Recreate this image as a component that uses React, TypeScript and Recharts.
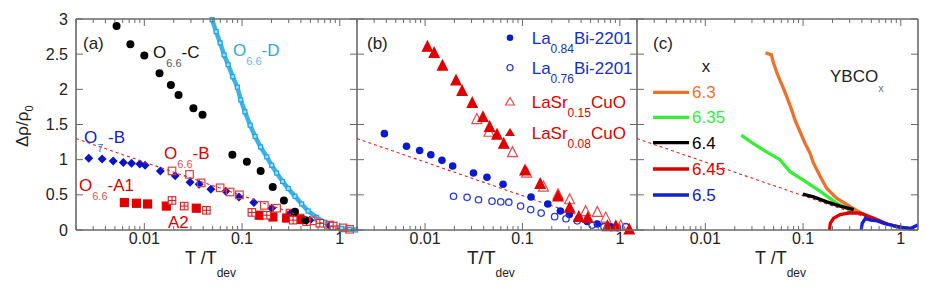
import { ComposedChart, Scatter, XAxis, YAxis } from 'recharts';

const W = 926;
const H = 293;
const TOP = 19;
const BOTTOM = 230;
const AXIS = '#6a6a6a';
const FONT = '"Liberation Sans", Arial, sans-serif';

type P = [number, number];

// axis values
const xDomain: [number, number] = [0.002, 1.5];
const xTicks = [
  0.002, 0.003, 0.004, 0.005, 0.006, 0.007, 0.008, 0.009, 0.01,
  0.02, 0.03, 0.04, 0.05, 0.06, 0.07, 0.08, 0.09, 0.1,
  0.2, 0.3, 0.4, 0.5, 0.6, 0.7, 0.8, 0.9, 1,
];
const xMajor = [0.01, 0.1, 1];
const yTicks = [0, 0.5, 1, 1.5, 2, 2.5, 3];

// red dashed guide, same in all three panels
const guide: P[] = [[0.002, 1.3], [1.05, 0]];

// (a) YBCO 6.6 / 7 samples
const o66C: P[] = [
  [0.0052, 2.9], [0.0072, 2.64], [0.01, 2.48], [0.0143, 2.23], [0.0187, 2.06],
  [0.0224, 1.92], [0.0318, 1.73], [0.0394, 1.64], [0.0796, 1.07], [0.112, 0.97],
  [0.155, 0.84], [0.206, 0.61], [0.268, 0.42], [0.348, 0.26], [0.447, 0.14],
];
const o66D: P[] = [
  [0.0494, 2.99], [0.0543, 2.82], [0.0597, 2.66], [0.0655, 2.49], [0.072, 2.35],
  [0.0803, 2.18], [0.0895, 2.03], [0.0969, 1.85], [0.107, 1.68], [0.121, 1.49],
  [0.136, 1.33], [0.155, 1.18], [0.179, 1.04], [0.201, 0.92], [0.226, 0.81],
  [0.26, 0.69], [0.297, 0.59], [0.348, 0.48], [0.407, 0.37], [0.475, 0.27],
  [0.578, 0.18], [0.703, 0.11], [0.855, 0.057], [1.04, 0.024], [1.26, 0.01],
  [1.45, 0.0],
];
const o7B: P[] = [
  [0.0027, 1.02], [0.0037, 1.01], [0.0048, 0.98], [0.0061, 0.96], [0.0074, 0.95],
  [0.009, 0.94], [0.0102, 0.92], [0.0146, 0.84], [0.0207, 0.77], [0.0294, 0.68],
  [0.0364, 0.65], [0.048, 0.58], [0.0682, 0.55], [0.093, 0.47], [0.132, 0.39],
  [0.201, 0.31], [0.309, 0.23], [0.494, 0.14], [0.79, 0.06],
];
const o66B: P[] = [
  [0.0192, 0.84], [0.029, 0.79], [0.0382, 0.67], [0.0597, 0.6], [0.0755, 0.54],
  [0.094, 0.5], [0.169, 0.35], [0.226, 0.31], [0.309, 0.24], [0.391, 0.17],
  [0.535, 0.13], [0.79, 0.07], [1.08, 0.03], [1.26, 0.01],
];
const o66A1: P[] = [
  [0.00625, 0.39], [0.0083, 0.38], [0.0108, 0.37], [0.0168, 0.34], [0.034, 0.31],
  [0.15, 0.21], [0.207, 0.185], [0.286, 0.17], [0.391, 0.15],
];
const o66A2: P[] = [
  [0.0192, 0.42], [0.0256, 0.34], [0.0432, 0.28], [0.126, 0.25], [0.179, 0.21],
  [0.333, 0.14], [0.457, 0.12], [0.625, 0.095], [0.855, 0.057],
];

// (b) Bi-2201 and LSCO
const la084: P[] = [
  [0.00382, 1.37], [0.00645, 1.19], [0.0088, 1.13], [0.01146, 1.07], [0.0149, 0.99],
  [0.0192, 0.91], [0.0314, 0.81], [0.0432, 0.75], [0.0632, 0.65], [0.1225, 0.47],
  [0.182, 0.37], [0.245, 0.27], [0.303, 0.22], [0.379, 0.17], [0.462, 0.12],
  [0.587, 0.085], [0.807, 0.047],
];
const la076: P[] = [
  [0.0196, 0.48], [0.027, 0.465], [0.0354, 0.43], [0.0487, 0.41], [0.0598, 0.4],
  [0.0724, 0.395], [0.0957, 0.34], [0.1216, 0.29], [0.1556, 0.24], [0.214, 0.19],
  [0.28, 0.16], [0.365, 0.13], [0.52, 0.07], [0.687, 0.047], [0.946, 0.033],
  [1.15, 0.047],
];
const lsco015: P[] = [
  [0.034, 1.57], [0.0453, 1.39], [0.079, 1.1], [0.1107, 0.81], [0.1644, 0.61],
  [0.232, 0.5], [0.305, 0.43], [0.445, 0.26], [0.587, 0.25], [0.716, 0.17],
  [1.02, 0.057],
];
const lsco008: P[] = [
  [0.01056, 2.6], [0.0124, 2.51], [0.0151, 2.33], [0.0208, 2.12], [0.024, 1.97],
  [0.0305, 1.8], [0.0393, 1.6], [0.046, 1.46], [0.0548, 1.35], [0.0643, 1.22],
  [0.1062, 0.84], [0.152, 0.65], [0.232, 0.47], [0.305, 0.31], [0.379, 0.18],
  [0.469, 0.165], [0.746, 0.047], [0.91, 0.047], [1.25, 0.0],
];

// (c) YBCO_x curves
const ybco63: P[] = [
  [0.0412, 2.52], [0.0475, 2.49], [0.0494, 2.39], [0.0514, 2.32], [0.0535, 2.25],
  [0.058, 2.13], [0.0627, 2.02], [0.0679, 1.9], [0.0764, 1.71], [0.0828, 1.56],
  [0.093, 1.4], [0.105, 1.23], [0.118, 1.09], [0.128, 0.95], [0.15, 0.76],
  [0.175, 0.59], [0.222, 0.45], [0.282, 0.36], [0.358, 0.27], [0.454, 0.2],
];
const ybco635: P[] = [
  [0.0233, 1.35], [0.0308, 1.23], [0.0423, 1.11], [0.058, 1.0], [0.0735, 0.83],
  [0.1007, 0.71], [0.15, 0.55], [0.222, 0.38], [0.33, 0.26],
];
const ybco64: P[] = [
  [0.0993, 0.51], [0.128, 0.47], [0.175, 0.4], [0.24, 0.34], [0.33, 0.29],
];
const ybco645: P[] = [
  [0.1866, 0.0], [0.19, 0.095], [0.205, 0.166], [0.24, 0.22], [0.305, 0.245],
  [0.387, 0.24], [0.531, 0.166], [0.73, 0.085], [1.0, 0.038], [1.37, 0.01],
];
const ybco65: P[] = [
  [0.394, 0.0], [0.403, 0.095], [0.435, 0.166], [0.49, 0.142], [0.575, 0.13],
  [0.673, 0.095], [0.789, 0.071], [0.925, 0.047], [1.08, 0.033], [1.27, 0.024],
  [1.49, 0.071],
];
const xLevels = ['6.3', '6.35', '6.4', '6.45', '6.5'];
const xColors = ['#f07028', '#33f033', '#000000', '#e00000', '#1020d0'];

const toXY = (pts: P[]) => pts.map(([x, y]) => ({ x, y }));

// marker shapes
const none = () => <g />;
const dot = (r: number, fill: string, stroke = 'none') => (p: any) => (
  <circle cx={p.cx} cy={p.cy} r={r} fill={fill} stroke={stroke} strokeWidth={1.3} />
);
const box = (s: number, fill: string, stroke: string) => (p: any) => (
  <rect x={p.cx - s / 2} y={p.cy - s / 2} width={s} height={s} fill={fill} stroke={stroke} strokeWidth={1.2} />
);
const hatchBox = (s: number, stroke: string) => (p: any) => (
  <g stroke={stroke} strokeWidth={1.1} fill="#fff">
    <rect x={p.cx - s / 2} y={p.cy - s / 2} width={s} height={s} />
    <line x1={p.cx} x2={p.cx} y1={p.cy - s / 2} y2={p.cy + s / 2} />
    <line x1={p.cx - s / 2} x2={p.cx + s / 2} y1={p.cy} y2={p.cy} />
  </g>
);
const diamond = (s: number, fill: string) => (p: any) => (
  <polygon points={`${p.cx},${p.cy - s} ${p.cx + s},${p.cy} ${p.cx},${p.cy + s} ${p.cx - s},${p.cy}`} fill={fill} />
);
const tri = (s: number, fill: string, stroke: string) => (p: any) => (
  <polygon
    points={`${p.cx},${p.cy - s * 0.6} ${p.cx + s / 2},${p.cy + s * 0.4} ${p.cx - s / 2},${p.cy + s * 0.4}`}
    fill={fill} stroke={stroke} strokeWidth={1.2}
  />
);

interface Series { data: P[]; shape: any; line?: any }

const dashed = { stroke: '#e02020', strokeWidth: 1.1, strokeDasharray: '3 3' };

const panelA: Series[] = [
  { data: o66D, shape: box(4, '#a6dcf6', '#1ea4e0'), line: { stroke: '#3ab3ea', strokeWidth: 4.5 } },
  { data: o7B, shape: diamond(4.5, '#0a14c8') },
  { data: o66B, shape: box(7.5, 'none', '#e83a3a') },
  { data: o66A1, shape: box(8, '#e00000', '#e00000') },
  { data: o66A2, shape: hatchBox(7.5, '#e02020') },
  { data: o66C, shape: dot(4, '#000') },
  { data: guide, shape: none, line: dashed },
];
const panelB: Series[] = [
  { data: guide, shape: none, line: dashed },
  { data: la084, shape: dot(3.8, '#0a1ad0') },
  { data: la076, shape: dot(3.2, 'none', '#2a3ae0') },
  { data: lsco015, shape: tri(10, 'none', '#f04848') },
  { data: lsco008, shape: tri(10, '#e00000', '#e00000') },
];
const panelC: Series[] = [
  { data: guide, shape: none, line: dashed },
  ...[ybco63, ybco635, ybco64, ybco645, ybco65].map((d, i) => ({
    data: d, shape: none, line: { stroke: xColors[i], strokeWidth: 3.3 },
  })),
];

function Panel({ left, right, series, yLabels }: { left: number; right: number; series: Series[]; yLabels?: boolean }) {
  // x ticks point inward at the bottom and at the top of the box
  const xTick = (p: any) => {
    const v = p.payload.value;
    const major = xMajor.includes(v);
    const len = major ? 7 : 4;
    return (
      <g>
        <line x1={p.x} x2={p.x} y1={BOTTOM} y2={BOTTOM - len} stroke={AXIS} />
        <line x1={p.x} x2={p.x} y1={TOP} y2={TOP + len} stroke={AXIS} />
        {major && (
          <text x={p.x} y={BOTTOM + 14} textAnchor="middle" fontSize={16} fill="#222" fontFamily={FONT}>
            {String(v)}
          </text>
        )}
      </g>
    );
  };
  // y ticks on both sides of the box
  const yTick = (p: any) => (
    <g>
      <line x1={left} x2={left + 7} y1={p.y} y2={p.y} stroke={AXIS} />
      <line x1={right} x2={right - 7} y1={p.y} y2={p.y} stroke={AXIS} />
      {yLabels && (
        <text x={left - 8} y={p.y + 5.5} textAnchor="end" fontSize={16} fill="#222" fontFamily={FONT}>
          {String(p.payload.value)}
        </text>
      )}
    </g>
  );

  return (
    <div style={{ position: 'absolute', left: 0, top: 0 }}>
      <ComposedChart width={W} height={H}
        margin={{ top: TOP, bottom: H - BOTTOM - 1, left: left - 1, right: W - right }}>
        <XAxis type="number" dataKey="x" scale="log" domain={xDomain} ticks={xTicks} interval={0}
          height={1} axisLine={false} tickLine={false} tick={xTick} />
        <YAxis type="number" dataKey="y" domain={[0, 3]} ticks={yTicks} interval={0} width={1}
          axisLine={false} tickLine={false} tick={yTick} />
        {series.map((s, i) => (
          <Scatter key={i} data={toXY(s.data)} shape={s.shape} line={s.line} lineJointType="linear"
            isAnimationActive={false} />
        ))}
      </ComposedChart>
    </div>
  );
}

function Lab({ x, y, color, a, sub, b, subColor, size = 17, subSize = 11, shift = 9 }: any) {
  return (
    <text x={x} y={y} fill={color} fontSize={size} fontFamily={FONT}>
      {a}
      <tspan fontSize={subSize} dy={shift} fill={subColor ?? color}>{sub}</tspan>
      <tspan dy={-shift}>{b}</tspan>
    </text>
  );
}

export default function App() {
  const bLegend = [
    { a: 'La', sub: '0.84', b: 'Bi-2201', color: '#1030d0', mark: <circle cx={510} cy={37.7} r={3.3} fill="#0a1ad0" /> },
    { a: 'La', sub: '0.76', b: 'Bi-2201', color: '#1030d0', mark: <circle cx={510} cy={67.7} r={3} fill="none" stroke="#2a3ae0" strokeWidth={1.2} /> },
    { a: 'LaSr', sub: '0.15', b: 'CuO', color: '#e00000', mark: <polygon points="510,97.5 514.5,105 505.5,105" fill="none" stroke="#f04848" strokeWidth={1.2} /> },
    { a: 'LaSr', sub: '0.08', b: 'CuO', color: '#e00000', mark: <polygon points="510,128 515,136 505,136" fill="#e00000" /> },
  ];
  const bY = [43.7, 73.7, 107.7, 138.5];
  const cY = [92.3, 117.3, 142.7, 169, 195];

  return (
    <div style={{ position: 'absolute', left: 0, top: 0, width: W, height: H, background: '#fff' }}>
      <Panel left={76} right={357} series={panelA} yLabels />
      <Panel left={357} right={637} series={panelB} />
      <Panel left={637} right={918} series={panelC} />
      <svg width={W} height={H} style={{ position: 'absolute', left: 0, top: 0, zIndex: 5, pointerEvents: 'none' }}>
        {/* frame of the three boxes */}
        <g stroke={AXIS} strokeWidth={1.6}>
          <line x1={76} x2={918} y1={TOP} y2={TOP} />
          <line x1={76} x2={918} y1={BOTTOM} y2={BOTTOM} />
          <line x1={76} x2={76} y1={TOP} y2={BOTTOM} />
          <line x1={357} x2={357} y1={TOP} y2={BOTTOM} />
          <line x1={637} x2={637} y1={TOP} y2={BOTTOM} />
          <line x1={918} x2={918} y1={TOP} y2={BOTTOM} />
        </g>

        {/* y axis title */}
        <text x={28} y={147} transform="rotate(-90 28 147)" fontSize={17} fill="#222" fontFamily={FONT}>
          Δρ/ρ<tspan fontSize={11} dy={5}>0</tspan>
        </text>

        {/* x axis titles */}
        <Lab x={185} y={263.5} color="#222" a="T /T" sub="dev" b="" size={18} subSize={12} shift={13} />
        <Lab x={467} y={263.5} color="#222" a="T/T" sub="dev" b="" size={19} subSize={12} shift={13} />
        <Lab x={755} y={263.5} color="#222" a="T /T" sub="dev" b="" size={18} subSize={12} shift={13} />

        {/* panel (a) labels */}
        <text x={83} y={49} fontSize={17} fill="#222" fontFamily={FONT}>(a)</text>
        <Lab x={153} y={58} color="#111" subColor="#555" a="O" sub="6.6" b="-C" />
        <Lab x={233} y={56} color="#29abe2" subColor="#5cc0ea" a="O" sub="6.6" b="-D" />
        <Lab x={84} y={143} color="#1020d0" subColor="#5060e0" a="O" sub="7" b=" -B" />
        <Lab x={164} y={159} color="#e00000" subColor="#e85050" a="O" sub="6.6" b="-B" />
        <Lab x={79} y={191} color="#e00000" subColor="#e85050" a="O" sub="6.6" b="-A1" />
        <text x={168} y={228} fontSize={17} fill="#e00000" fontFamily={FONT}>A2</text>

        {/* panel (b) legend */}
        <text x={367} y={49} fontSize={17} fill="#222" fontFamily={FONT}>(b)</text>
        {bLegend.map((l, i) => (
          <g key={i}>
            {l.mark}
            <Lab x={531.7} y={bY[i]} color={l.color} a={l.a} sub={l.sub} b={l.b} subSize={12} />
          </g>
        ))}

        {/* panel (c) legend */}
        <text x={653} y={49} fontSize={17} fill="#222" fontFamily={FONT}>(c)</text>
        <text x={706} y={72} textAnchor="middle" fontSize={17} fill="#222" fontFamily={FONT}>x</text>
        <Lab x={830} y={82} color="#222" subColor="#777" a="YBCO" sub="x" b="" shift={10} />
        {xLevels.map((lv, i) => (
          <g key={lv}>
            <line x1={653} x2={689} y1={cY[i]} y2={cY[i]} stroke={xColors[i]} strokeWidth={3.3} />
            <text x={692} y={cY[i] + 6} fontSize={17} fill={xColors[i]} fontFamily={FONT}>{lv}</text>
          </g>
        ))}
      </svg>
    </div>
  );
}
